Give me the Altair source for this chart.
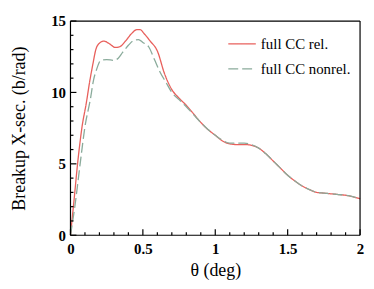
import altair as alt
import pandas as pd

# ---- data ----
theta_rel = [0, 0.025, 0.05, 0.08, 0.11, 0.13, 0.155, 0.175, 0.20, 0.23, 0.27, 0.31, 0.34,
             0.38, 0.42, 0.46, 0.48, 0.51, 0.55, 0.60, 0.65, 0.70, 0.75, 0.80, 0.85,
             0.90, 0.95, 1.00, 1.05, 1.10, 1.15, 1.20, 1.25, 1.30, 1.35, 1.40, 1.45,
             1.50, 1.55, 1.60, 1.65, 1.70, 1.75, 1.80, 1.85, 1.90, 1.95, 2.00]
xsec_rel = [0, 2.5, 5.1, 7.6, 9.3, 10.6, 12.0, 13.0, 13.45, 13.6, 13.4, 13.15, 13.2,
            13.6, 14.1, 14.4, 14.4, 14.1, 13.6, 12.9, 11.3, 10.2, 9.6, 9.1, 8.5,
            7.9, 7.4, 7.0, 6.6, 6.4, 6.35, 6.35, 6.3, 6.1, 5.7, 5.2, 4.7,
            4.2, 3.8, 3.45, 3.2, 3.0, 2.95, 2.9, 2.85, 2.8, 2.7, 2.55]

theta_nonrel = [0, 0.03, 0.068, 0.10, 0.137, 0.16, 0.18, 0.21, 0.25, 0.30, 0.33,
                0.36, 0.40, 0.44, 0.47, 0.50, 0.54, 0.58, 0.62, 0.66, 0.70, 0.75, 0.80,
                0.85, 0.90, 0.95, 1.00, 1.05, 1.10, 1.15, 1.20, 1.25, 1.30, 1.35, 1.40,
                1.45, 1.50, 1.55, 1.60, 1.65, 1.70, 1.75, 1.80, 1.85, 1.90, 1.95, 2.00]
xsec_nonrel = [0, 2.0, 5.1, 7.6, 9.5, 10.9, 11.6, 12.25, 12.3, 12.25, 12.4,
               12.8, 13.3, 13.65, 13.7, 13.5, 13.2, 12.3, 11.4, 10.7, 10.0, 9.5, 9.0,
               8.45, 7.9, 7.4, 7.0, 6.65, 6.45, 6.45, 6.45, 6.35, 6.1, 5.7, 5.2,
               4.7, 4.2, 3.8, 3.45, 3.2, 3.0, 2.95, 2.9, 2.85, 2.8, 2.7, 2.55]

series_names = ["full CC rel.", "full CC nonrel."]
series_colors = ["#e8605c", "#8aab9b"]
series_dash = [[1, 0], [10, 4]]

# legend anchor in data units (key line start/end, row level, text start)
legend_x0 = [1.09, 1.09]
legend_x1 = [1.28, 1.28]
legend_y = [13.4, 11.65]
legend_tx = [1.315, 1.315]

x_major = [0, 0.5, 1.0, 1.5, 2.0]
x_minor = [0.1, 0.2, 0.3, 0.4, 0.6, 0.7, 0.8, 0.9, 1.1, 1.2, 1.3, 1.4,
           1.6, 1.7, 1.8, 1.9]
y_major = [0, 5, 10, 15]
y_minor = [1, 2, 3, 4, 6, 7, 8, 9, 11, 12, 13, 14]

X0, X1 = 0, 2
Y0, Y1 = 0, 15

W, H = 292, 216
FONT = "Liberation Serif, Times New Roman, serif"

# tick lengths expressed in data units (6 px major, 3 px minor)
XT_MAJ, XT_MIN = 6 * (Y1 - Y0) / H, 3 * (Y1 - Y0) / H
YT_MAJ, YT_MIN = 6 * (X1 - X0) / W, 3 * (X1 - X0) / W

xscale = alt.Scale(domain=[X0, X1], nice=False, zero=False)
yscale = alt.Scale(domain=[Y0, Y1], nice=False)

xaxis = alt.Axis(values=x_major, format="~g", ticks=False, domain=False, grid=False,
                 labelFlush=False,
                 labelFont=FONT, labelFontWeight="bold", labelFontSize=15,
                 labelColor="black", labelPadding=6,
                 title="θ (deg)", titleFont=FONT, titleFontSize=18,
                 titleFontWeight="normal", titleColor="black",
                 titleY=36, titleBaseline="middle")
yaxis = alt.Axis(values=y_major, ticks=False, domain=False, grid=False,
                 labelFlush=False,
                 labelFont=FONT, labelFontWeight="bold", labelFontSize=15,
                 labelColor="black", labelPadding=5,
                 title="Breakup X-sec. (b/rad)", titleFont=FONT, titleFontSize=18,
                 titleFontWeight="normal", titleColor="black",
                 titleX=-51, titleY=H / 2, titleAngle=270,
                 titleAlign="center", titleBaseline="middle")


def curve(xs, ys, i):
    d = pd.DataFrame({"theta": xs, "xsec": ys})
    return alt.Chart(d).mark_line(strokeWidth=1.3, interpolate="monotone",
                                  color=series_colors[i], strokeDash=series_dash[i]).encode(
        x=alt.X("theta:Q", scale=xscale, axis=xaxis),
        y=alt.Y("xsec:Q", scale=yscale, axis=yaxis))


def legend_key(i):
    d = pd.DataFrame({"a": [legend_x0[i]], "b": [legend_x1[i]], "v": [legend_y[i]]})
    return alt.Chart(d).mark_rule(strokeWidth=1.3, color=series_colors[i],
                                  strokeDash=series_dash[i]).encode(
        x=alt.X("a:Q", scale=xscale), x2="b:Q", y=alt.Y("v:Q", scale=yscale))


def legend_text(i):
    d = pd.DataFrame({"a": [legend_tx[i]], "v": [legend_y[i]], "label": [series_names[i]]})
    return alt.Chart(d).mark_text(align="left", baseline="middle", font=FONT,
                                  fontSize=15, color="black").encode(
        x=alt.X("a:Q", scale=xscale), y=alt.Y("v:Q", scale=yscale), text="label:N")


def vseg(xs, ya, yb, width=1.2):
    # vertical segments at x positions, from ya to yb (data units)
    d = pd.DataFrame({"x": xs, "ya": [ya] * len(xs), "yb": [yb] * len(xs)})
    return alt.Chart(d).mark_rule(color="#000000", strokeWidth=width).encode(
        x=alt.X("x:Q", scale=xscale), y=alt.Y("ya:Q", scale=yscale), y2="yb:Q")


def hseg(ys, xa, xb, width=1.2):
    # horizontal segments at y positions, from xa to xb (data units)
    d = pd.DataFrame({"y": ys, "xa": [xa] * len(ys), "xb": [xb] * len(ys)})
    return alt.Chart(d).mark_rule(color="#000000", strokeWidth=width).encode(
        y=alt.Y("y:Q", scale=yscale), x=alt.X("xa:Q", scale=xscale), x2="xb:Q")


layers = [
    curve(theta_rel, xsec_rel, 0),
    curve(theta_nonrel, xsec_nonrel, 1),
    legend_key(0), legend_key(1),
    legend_text(0), legend_text(1),
    vseg(x_major, Y0, Y0 + XT_MAJ),
    vseg(x_minor, Y0, Y0 + XT_MIN),
    hseg(y_major, X0, X0 + YT_MAJ),
    hseg(y_minor, X0, X0 + YT_MIN),
    vseg([X0, X1], Y0, Y1),
    hseg([Y0, Y1], X0, X1),
]

chart = alt.layer(*layers).properties(
    width=W, height=H,
    autosize=alt.AutoSizeParams(type="none"),
    padding={"left": 63, "top": 12, "right": 6, "bottom": 45},
).configure_view(stroke=None)

chart.save("out.html", embed_options={"renderer": "svg", "actions": False})
